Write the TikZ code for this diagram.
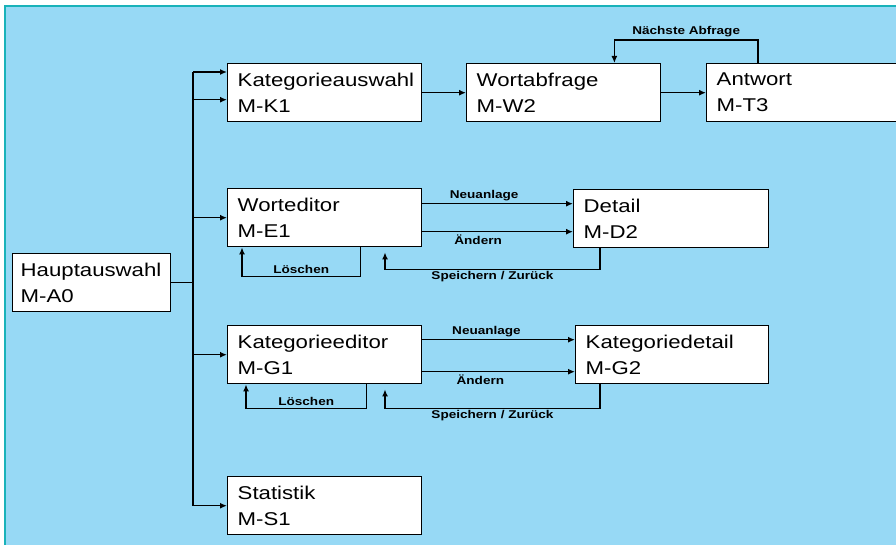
\documentclass[tikz,border=0pt]{standalone}
\usepackage{fontspec}
\newfontfamily\boxfont[FakeStretch=1.2]{Liberation Sans}
\usetikzlibrary{arrows.meta}
\definecolor{bgblue}{RGB}{151,217,245}
\definecolor{rimteal}{RGB}{25,178,185}

\tikzset{
  modul/.style={draw, fill=white, line width=1.4pt, anchor=north west, minimum height=58pt,
    inner xsep=10pt, text width=#1, align=left, font=\boxfont\fontsize{18.5}{26}\selectfont},
  lbl/.style={font=\boxfont\bfseries\fontsize{11.3}{13}\selectfont, inner sep=2pt},
  link/.style={line width=1.4pt, ->}
}

\begin{document}
\begin{tikzpicture}[x=1pt, y=-1pt, >={Latex[length=7pt,width=6pt]}]
    \clip (0,0) rectangle (896,545);
    % Hintergrund
    \fill[white] (0,0) rectangle (896,545);
    \fill[bgblue] (5,6) rectangle (896,545);
    \draw[rimteal, line width=2pt] (5,545) -- (5,6) -- (896,6);

    % Module
    \node[modul=142pt, inner xsep=8pt] (hw) at (12,253) {Hauptauswahl\\M-A0};
    \node[modul=174pt] (ka) at (227,63) {Kategorieauswahl\\M-K1};
    \node[modul=174pt] (wa) at (466,63) {Wortabfrage\\M-W2};
    \node[modul=180pt] (an) at (706,63) {Antwort\\M-T3};
    \node[modul=174pt] (we) at (227,188) {Worteditor\\M-E1};
    \node[modul=175pt] (de) at (573,189) {Detail\\M-D2};
    \node[modul=174pt] (ke) at (227,325) {Kategorieeditor\\M-G1};
    \node[modul=173pt] (kd) at (575,325) {Kategoriedetail\\M-G2};
    \node[modul=174pt] (st) at (227,476) {Statistik\\M-S1};

    % Verteiler
    \coordinate (bus) at (193,72);
    \draw[line width=1.4pt] (hw.east) -- (hw.east -| bus);
    \draw[line width=1.4pt] (bus) -- (bus |- st.west);
    \draw[link] (bus) -- (bus -| ka.west);
    \draw[link] ([yshift=-7pt]ka.west -| bus) -- ([yshift=-7pt]ka.west);
    \draw[link] (we.west -| bus) -- (we.west);
    \draw[link] (ke.west -| bus) -- (ke.west);
    \draw[link] (st.west -| bus) -- (st.west);

    % Abfrage
    \draw[link] (ka.east) -- (ka.east -| wa.west);
    \draw[link] (wa.east) -- (wa.east -| an.west);
    \draw[link] ([xshift=52pt]an.north west) -- ++(0,-23) -| node[lbl, above, pos=0.25] {Nächste Abfrage} ([xshift=-47pt]wa.north east);

    % Worteditor
    \draw[link] ([yshift=14pt]we.east) -- node[lbl, above, pos=0.41] {Neuanlage} ([yshift=14pt]we.east -| de.west);
    \draw[link] ([yshift=-14pt]we.east) -- node[lbl, below, pos=0.37] {Ändern} ([yshift=-14pt]we.east -| de.west);
    \draw[link] ([xshift=-62pt]we.south east) -- ++(0,29) -| node[lbl, above, pos=0.25] {Löschen} ([xshift=15pt]we.south west);
    \draw[link] ([xshift=27pt]de.south west) -- ++(0,21) -| node[lbl, below, pos=0.25, inner sep=1pt] {Speichern / Zurück} ([xshift=158pt,yshift=-5pt]we.south west);

    % Kategorieeditor
    \draw[link] ([yshift=15pt]ke.east) -- node[lbl, above, pos=0.42] {Neuanlage} ([yshift=15pt]ke.east -| kd.west);
    \draw[link] ([yshift=-17pt]ke.east) -- node[lbl, below, pos=0.38] {Ändern} ([yshift=-17pt]ke.east -| kd.west);
    \draw[link] ([xshift=-56pt]ke.south east) -- ++(0,24) -| node[lbl, above, pos=0.25] {Löschen} ([xshift=19pt]ke.south west);
    \draw[link] ([xshift=25pt]kd.south west) -- ++(0,24) -| node[lbl, below, pos=0.25, inner sep=1pt] {Speichern / Zurück} ([xshift=158pt,yshift=-5pt]ke.south west);
\end{tikzpicture}
\end{document}
